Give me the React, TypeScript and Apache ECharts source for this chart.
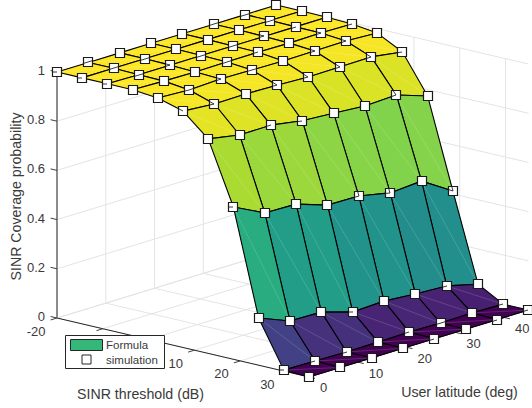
import React, { useEffect, useRef } from "react";
import * as echarts from "echarts";

const sinrGrid = [-20, -14.5, -9, -3.5, 2, 7.5, 13, 18.5, 24, 29.5, 35];
const latGrid = [0, 6.43, 12.86, 19.29, 25.71, 32.14, 38.57, 45];

const coverageAtSinr0 = [1, 1, 1, 1, 1, 1, 1, 1];
const coverageAtSinr1 = [1, 1, 1, 1, 1, 1, 1, 1];
const coverageAtSinr2 = [1, 0.998, 0.998, 0.998, 0.998, 0.998, 0.998, 0.998];
const coverageAtSinr3 = [1, 0.996, 0.994, 0.996, 0.997, 0.995, 0.997, 0.995];
const coverageAtSinr4 = [0.99, 0.984, 0.99, 0.987, 0.985, 0.987, 0.989, 0.982];
const coverageAtSinr5 = [0.961, 0.951, 0.953, 0.949, 0.944, 0.946, 0.948, 0.929];
const coverageAtSinr6 = [0.872, 0.849, 0.85, 0.829, 0.821, 0.811, 0.817, 0.774];
const coverageAtSinr7 = [0.619, 0.556, 0.553, 0.51, 0.508, 0.482, 0.491, 0.412];
const coverageAtSinr8 = [0.192, 0.141, 0.138, 0.1, 0.105, 0.095, 0.089, 0.057];
const coverageAtSinr9 = [0.004, 0.002, 0, 0.001, 0.003, 0.001, 0.003, 0];
const coverageAtSinr10 = [0, 0, 0, 0, 0, 0, 0, 0];
const coverage = [
  coverageAtSinr0, coverageAtSinr1, coverageAtSinr2, coverageAtSinr3, coverageAtSinr4, coverageAtSinr5,
  coverageAtSinr6, coverageAtSinr7, coverageAtSinr8, coverageAtSinr9, coverageAtSinr10,
];

// Which mesh edges show through each simulation marker:
// 0 none, 1 along latitude both ways, 2 from both lower neighbours, 3 from the lower-latitude side only.
const meshThrough = [
  [3, 1, 0, 0, 0, 1, 1, 0],
  [3, 1, 1, 0, 0, 0, 1, 0],
  [3, 1, 2, 1, 1, 2, 3, 0],
  [0, 0, 0, 1, 3, 0, 2, 3],
  [0, 1, 2, 1, 0, 2, 2, 0],
  [2, 2, 0, 2, 2, 2, 2, 3],
  [0, 0, 3, 3, 0, 0, 2, 0],
  [3, 0, 0, 0, 2, 2, 0, 2],
  [0, 0, 0, 3, 0, 0, 3, 0],
  [3, 3, 3, 0, 3, 1, 0, 3],
  [0, 0, 0, 0, 3, 0, 3, 3],
];

const sinrTicks = [-20, -10, 0, 10, 20, 30];
const sinrTickLabels = ["-20", "", "", "10", "20", "30"];
const latTicks = [0, 10, 20, 30, 40];
const latTickLabels = ["0", "10", "20", "30", "40"];
const probTicks = [0, 0.2, 0.4, 0.6, 0.8, 1];
const probTickLabels = ["0", "0.2", "0.4", "0.6", "0.8", "1"];

const legendNames = ["Formula", "simulation"];
const axisTitles = ["SINR threshold (dB)", "User latitude (deg)", "SINR Coverage probability"];

const viridis = [
  "#440154", "#482475", "#414487", "#355f8d", "#2a788e", "#21918c",
  "#22a884", "#44bf70", "#7ad151", "#bddf26", "#fde725",
];

const sinrMin = sinrGrid[0];
const sinrMax = sinrGrid[sinrGrid.length - 1];
const latMin = latGrid[0];
const latMax = latGrid[latGrid.length - 1];

// Orthographic view of the 3D box, onto the hidden pixel-sized cartesian axes.
function project(s: number, l: number, p: number): number[] {
  return [
    57 + (s - sinrMin) * 4.582 + l * 4.877,
    318 + (s - sinrMin) * 1.0727 - l * 1.488 - 246 * p,
  ];
}

function colorOf(v: number): string {
  const t = Math.max(0, Math.min(1, v)) * (viridis.length - 1);
  const a = Math.min(Math.floor(t), viridis.length - 2);
  const f = t - a;
  const hex = (c: string, k: number) => parseInt(c.substr(1 + k * 2, 2), 16);
  const ch = [0, 1, 2].map((k) => Math.round(hex(viridis[a], k) * (1 - f) + hex(viridis[a + 1], k) * f));
  return `rgb(${ch[0]},${ch[1]},${ch[2]})`;
}

const textStyle = { fontFamily: "Liberation Sans", fill: "#3a3a3a" };

function segmentSeries(name: string, segments: number[][], stroke: string, lineWidth: number, z: number) {
  return {
    type: "custom",
    name,
    coordinateSystem: "cartesian2d",
    silent: true,
    z,
    data: segments,
    renderItem: (_p: any, api: any) => {
      const a = api.coord(project(api.value(0), api.value(1), api.value(2)));
      const b = api.coord(project(api.value(3), api.value(4), api.value(5)));
      return {
        type: "line",
        shape: { x1: a[0], y1: a[1], x2: b[0], y2: b[1] },
        style: { stroke, lineWidth, fill: "none" },
      };
    },
  };
}

function buildOption() {
  const grid: number[][] = [];
  probTicks.forEach((p) => {
    grid.push([sinrMin, latMin, p, sinrMin, latMax, p]);
    grid.push([sinrMin, latMax, p, sinrMax, latMax, p]);
  });
  latTicks.forEach((l) => {
    grid.push([sinrMin, l, 0, sinrMin, l, 1]);
    grid.push([sinrMin, l, 0, sinrMax, l, 0]);
  });
  sinrTicks.forEach((s) => {
    grid.push([s, latMax, 0, s, latMax, 1]);
    grid.push([s, latMin, 0, s, latMax, 0]);
  });

  const axisLines = [
    [sinrMin, latMin, 0, sinrMax, latMin, 0],
    [sinrMax, latMin, 0, sinrMax, latMax, 0],
  ];
  const ticks: number[][] = [];
  sinrTicks.forEach((s) => ticks.push([s, latMin, 0, s, latMin - 1.3, 0]));
  latTicks.forEach((l) => ticks.push([sinrMax, l, 0, sinrMax + 1.3, l, 0]));
  const probTickMarks = probTicks.map((p) => [sinrMin, latMin, p, sinrMin - 1.4, latMin, p]);

  const faces: number[][] = [];
  for (let i = 0; i < sinrGrid.length - 1; i++) {
    for (let j = latGrid.length - 2; j >= 0; j--) faces.push([i, j]);
  }
  const points: number[][] = [];
  sinrGrid.forEach((s, i) => latGrid.forEach((l, j) => points.push([s, l, coverage[i][j], i, j])));

  const P = (i: number, j: number) => project(sinrGrid[i], latGrid[j], coverage[i][j]);

  const labels: any[] = [];
  const addLabel = (text: string, x: number, y: number, align: string) => {
    if (!text) return;
    labels.push({
      type: "text", x, y, z: 50,
      style: { ...textStyle, text, fontSize: 13, textAlign: align, textVerticalAlign: "middle" },
    });
  };
  probTicks.forEach((p, k) => {
    const o = project(sinrMin, latMin, p);
    addLabel(probTickLabels[k], o[0] - 12, o[1] - 1.5, "right");
  });
  sinrTicks.forEach((s, k) => {
    const o = project(s, latMin, 0);
    addLabel(sinrTickLabels[k], o[0] - 11.5, o[1] + 13, "right");
  });
  latTicks.forEach((l, k) => {
    const o = project(sinrMax, l, 0);
    addLabel(latTickLabels[k], o[0] + 11, o[1] + 11, "left");
  });

  const title = (text: string, x: number, y: number, rotation = 0) => ({
    type: "text", x, y, rotation, z: 50,
    style: { ...textStyle, text, fontSize: 14.2, textAlign: "center", textVerticalAlign: "middle" },
  });

  return {
    animation: false,
    backgroundColor: "#ffffff",
    grid: { left: 0, right: 0, top: 0, bottom: 0 },
    xAxis: { type: "value", min: 0, max: 532, show: false },
    yAxis: { type: "value", min: 0, max: 408, inverse: true, show: false },
    tooltip: { show: false },
    series: [
      segmentSeries("grid", grid, "#e4e4e4", 1, 1),
      segmentSeries("axes", axisLines, "#262626", 1, 2),
      segmentSeries("ticks", ticks, "#404040", 1, 2),
      segmentSeries("probAxis", [[sinrMin, latMin, 0, sinrMin, latMin, 1]], "#808080", 1.8, 2),
      segmentSeries("probTicks", probTickMarks, "#404040", 1, 2),
      {
        type: "custom",
        name: legendNames[0],
        coordinateSystem: "cartesian2d",
        silent: true,
        z: 3,
        data: faces,
        renderItem: (_p: any, api: any) => {
          const i = api.value(0);
          const j = api.value(1);
          const c = [P(i, j), P(i, j + 1), P(i + 1, j + 1), P(i + 1, j)].map((q) => api.coord(q));
          return {
            type: "group",
            children: [
              {
                type: "polygon",
                shape: { points: c },
                style: { fill: colorOf(coverage[i][j]), stroke: "#000000", lineWidth: 1.1, lineJoin: "round" },
              },
              {
                type: "line",
                shape: { x1: c[0][0], y1: c[0][1], x2: c[2][0], y2: c[2][1] },
                style: { stroke: "rgba(255,255,255,0.25)", lineWidth: 0.6, fill: "none" },
              },
            ],
          };
        },
      },
      {
        type: "custom",
        name: legendNames[1],
        coordinateSystem: "cartesian2d",
        silent: true,
        z: 4,
        data: points,
        renderItem: (_p: any, api: any) => {
          const c = api.coord(project(api.value(0), api.value(1), api.value(2)));
          const i = api.value(3);
          const j = api.value(4);
          const cx = Math.round(c[0]);
          const cy = Math.round(c[1]);
          const children: any[] = [
            {
              type: "rect",
              shape: { x: cx - 4.5, y: cy - 4.5, width: 9, height: 9 },
              style: { fill: "#ffffff", stroke: "#1a1a1a", lineWidth: 1.2 },
            },
          ];
          const through = (ni: number, nj: number) => {
            if (ni < 0 || nj < 0 || nj >= latGrid.length) return;
            const q = api.coord(P(ni, nj));
            const dx = q[0] - c[0];
            const dy = q[1] - c[1];
            const k = 4 / Math.max(Math.abs(dx), Math.abs(dy), 1e-6);
            children.push({
              type: "line",
              shape: { x1: cx, y1: cy, x2: cx + dx * k, y2: cy + dy * k },
              style: { stroke: "#222222", lineWidth: 0.9, fill: "none" },
            });
          };
          const kind = meshThrough[i][j];
          if (kind === 1) {
            through(i, j - 1);
            through(i, j + 1);
          } else if (kind === 2) {
            through(i - 1, j);
            through(i, j - 1);
          } else if (kind === 3) {
            through(i, j - 1);
            if (j === 0) {
              children.push({
                type: "line",
                shape: { x1: cx - 4, y1: cy, x2: cx, y2: cy },
                style: { stroke: "#222222", lineWidth: 0.9, fill: "none" },
              });
            }
          }
          return { type: "group", children };
        },
      },
    ],
    graphic: [
      ...labels,
      title(axisTitles[0], 140.5, 394),
      title(axisTitles[1], 459.5, 392),
      title(axisTitles[2], 16, 196.5, Math.PI / 2),
      {
        type: "rect", z: 60,
        shape: { x: 65.5, y: 335.5, width: 99, height: 33 },
        style: { fill: "#ffffff", stroke: "#262626", lineWidth: 1 },
      },
      {
        type: "rect", z: 61,
        shape: { x: 70.5, y: 339.5, width: 32, height: 11 },
        style: { fill: "#35b779", stroke: "#262626", lineWidth: 1 },
      },
      {
        type: "rect", z: 61,
        shape: { x: 82, y: 355, width: 9, height: 9 },
        style: { fill: "#ffffff", stroke: "#262626", lineWidth: 1 },
      },
      {
        type: "text", x: 106, y: 345, z: 61,
        style: { ...textStyle, text: legendNames[0], fontSize: 11.5, textVerticalAlign: "middle" },
      },
      {
        type: "text", x: 106, y: 360, z: 61,
        style: { ...textStyle, text: legendNames[1], fontSize: 11.5, textVerticalAlign: "middle" },
      },
    ],
  };
}

export default function App() {
  const ref = useRef<HTMLDivElement>(null);
  useEffect(() => {
    document.body.style.margin = "0";
    const chart = echarts.init(ref.current as HTMLDivElement, undefined, { renderer: "svg" });
    chart.setOption(buildOption() as any);
    return () => chart.dispose();
  }, []);
  return <div ref={ref} style={{ width: 532, height: 408 }} />;
}
